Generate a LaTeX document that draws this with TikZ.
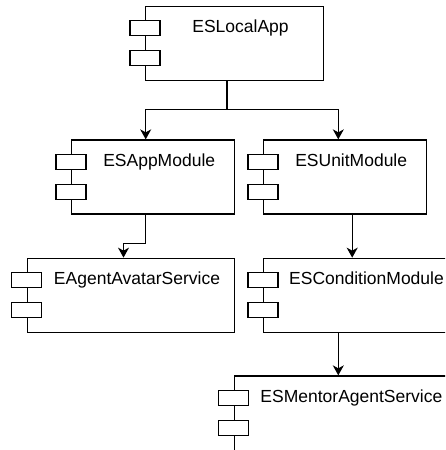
\documentclass[tikz,border=0pt]{standalone}
\usepackage{fontspec}
\setmainfont{Liberation Sans}
\usetikzlibrary{arrows.meta}

\tikzset{
  comp/.style={draw=black, line width=1.3pt, fill=white, rectangle,
    minimum height=74pt, inner sep=0pt},
  port/.style={draw=black, line width=1.3pt, fill=white},
  title/.style={anchor=base, inner sep=0pt,
    font=\fontsize{17.5}{21}\selectfont},
  link/.style={draw=black, line width=1.3pt,
    -{Stealth[length=10pt, width=11pt, inset=3pt]}},
  plain/.style={draw=black, line width=1.3pt},
}

\begin{document}
\begin{tikzpicture}[x=1pt, y=-1pt]
\useasboundingbox (0,0) rectangle (445,450);
\clip (0,0) rectangle (445,450);

% component boxes
\node[comp, minimum width=177.6pt] (lapp)   at (234.5,43.2) {};
\node[comp, minimum width=163pt]   (appm)   at (153.2,177)  {};
\node[comp, minimum width=163pt]   (unitm)  at (345.2,177)  {};
\node[comp, minimum width=207.4pt] (avatar) at (131,295.3)  {};
\node[comp, minimum width=205.6pt] (cond)   at (366.5,295.3) {};
\node[comp, minimum width=222.2pt, minimum height=78pt] (mentor) at (345.4,415)  {};

% the two small interface tabs on each component's left side
\foreach \n in {lapp,appm,unitm,avatar,cond,mentor}{
  \draw[port] ([xshift=-15pt,yshift=-15pt]\n.north west) rectangle ++(30,15);
  \draw[port] ([xshift=-15pt,yshift=-45pt]\n.north west) rectangle ++(30,15);
}

% component names
\node[title] (lapp-t)   at ([xshift=6pt,yshift=-27pt]lapp.north)   {ESLocalApp};
\node[title] (appm-t)   at ([xshift=6pt,yshift=-27pt]appm.north)   {ESAppModule};
\node[title] (unitm-t)  at ([xshift=6pt,yshift=-27pt]unitm.north)  {ESUnitModule};
\node[title] (avatar-t) at ([xshift=6pt,yshift=-27pt]avatar.north) {EAgentAvatarService};
\node[title] (cond-t)   at ([xshift=0pt,yshift=-27pt]cond.north)   {ESConditionModule};
\node[title] (mentor-t) at ([xshift=6pt,yshift=-27pt]mentor.north) {ESMentorAgentService};

% dependencies
\coordinate (bus) at (227,109.3);
\draw[plain] ([xshift=-7.5pt]lapp.south) -- (bus);
\draw[link] (bus) -| ([xshift=-7.5pt]appm.north);
\draw[link] (bus) -| ([xshift=-6.9pt]unitm.north);

\coordinate (bend) at (145.7,243.3);
\draw[plain] ([xshift=-7.5pt]appm.south) -- (bend);
\draw[link] (bend) -| ([xshift=-7.5pt]avatar.north);

\draw[link] ([xshift=7pt]unitm.south) -- ([xshift=7pt]unitm.south |- cond.north);
\draw[link] ([xshift=-28.2pt]cond.south) -- ([xshift=-28.2pt]cond.south |- mentor.north);
\end{tikzpicture}
\end{document}
